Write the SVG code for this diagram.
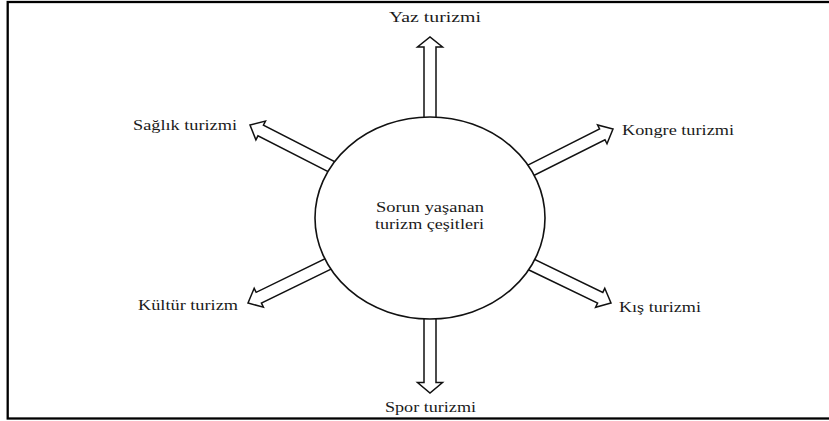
<svg xmlns="http://www.w3.org/2000/svg" width="829" height="421" viewBox="0 0 829 421">
<style>
.lbl{font-family:"Liberation Serif","Times New Roman",serif;font-size:15px;fill:#1a1a1a}
.arr{fill:#fff;stroke:#111;stroke-width:1.5;stroke-linejoin:miter}
.node{fill:#fff;stroke:#111;stroke-width:1.6}
</style>
<defs>
<polygon id="diag" points="-110,-6 -12,-6 -12,-10.5 0,0 -12,10.5 -12,6 -110,6"/>
</defs>
<rect x="7.7" y="2" width="840" height="416.5" fill="none" stroke="#000" stroke-width="2.3"/>
<g id="connectors">
<polygon class="arr" points="424,200 424,47 417.5,47 430,37 442.5,47 436,47 436,200"/>
<polygon class="arr" points="424,240 424,382.5 417.5,382.5 430,393 442.5,382.5 436,382.5 436,240"/>
<use href="#diag" class="arr" transform="translate(250,125) rotate(207.1)"/>
<use href="#diag" class="arr" transform="translate(613,129) rotate(-26.7)"/>
<use href="#diag" class="arr" transform="translate(611,303) rotate(25.8)"/>
<use href="#diag" class="arr" transform="translate(248,303) rotate(154)"/>
</g>
<g id="center">
<ellipse class="node" cx="430" cy="218" rx="115" ry="101"/>
<text class="lbl" x="376" y="212" textLength="108" lengthAdjust="spacingAndGlyphs">Sorun yaşanan</text>
<text class="lbl" x="375" y="229" textLength="109" lengthAdjust="spacingAndGlyphs">turizm çeşitleri</text>
</g>
<g id="yaz"><text class="lbl" x="389" y="22" textLength="92" lengthAdjust="spacingAndGlyphs">Yaz turizmi</text></g>
<g id="saglik"><text class="lbl" x="133" y="130" textLength="104" lengthAdjust="spacingAndGlyphs">Sağlık turizmi</text></g>
<g id="kongre"><text class="lbl" x="622" y="135" textLength="112" lengthAdjust="spacingAndGlyphs">Kongre turizmi</text></g>
<g id="kultur"><text class="lbl" x="138" y="310" textLength="100" lengthAdjust="spacingAndGlyphs">Kültür turizm</text></g>
<g id="kis"><text class="lbl" x="619" y="312" textLength="82" lengthAdjust="spacingAndGlyphs">Kış turizmi</text></g>
<g id="spor"><text class="lbl" x="385" y="412" textLength="91" lengthAdjust="spacingAndGlyphs">Spor turizmi</text></g>
</svg>
